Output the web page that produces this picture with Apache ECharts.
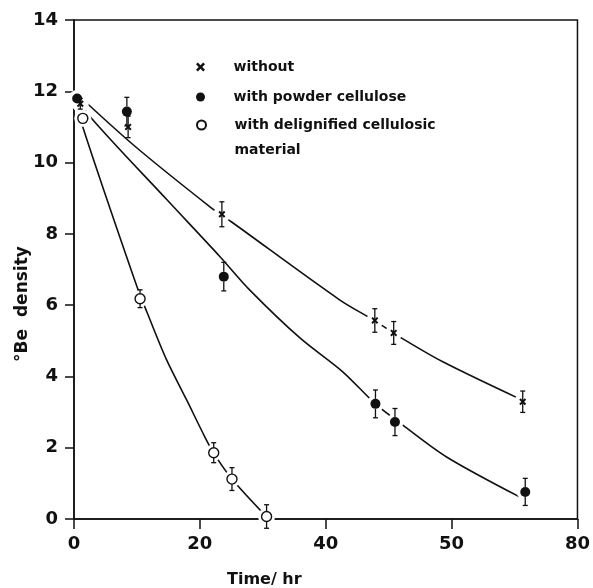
<!DOCTYPE html>
<html>
<head>
<meta charset="utf-8">
<script src="https://cdn.jsdelivr.net/npm/echarts@6/dist/echarts.min.js"></script>
<style>
  html, body { margin: 0; padding: 0; background: #fff; }
  #chart { width: 593px; height: 588px; }
</style>
</head>
<body>
<div id="chart"></div>
<script>
// measured points (time in hr, density in °Be, +/- error)
const timeWithout = [1.0, 8.6, 23.5, 47.8, 50.8, 71.3];
const densWithout = [11.65, 11.0, 8.55, 5.57, 5.22, 3.29];
const errWithout = [0.15, 0.3, 0.35, 0.33, 0.32, 0.3];

const timePowder = [0.5, 8.4, 23.8, 47.9, 51.0, 71.7];
const densPowder = [11.8, 11.43, 6.8, 3.23, 2.72, 0.76];
const errPowder = [0.12, 0.4, 0.4, 0.39, 0.38, 0.38];

const timeDelig = [1.4, 10.5, 22.2, 25.1, 30.6];
const densDelig = [11.24, 6.18, 1.86, 1.12, 0.07];
const errDelig = [0.12, 0.25, 0.28, 0.32, 0.33];

// fitted curves
const curveWithoutX = [0, 9.4, 21.6, 25, 42.2, 47.8, 52.2, 58.6, 70.8];
const curveWithoutY = [12, 10.5, 8.76, 8.34, 6.15, 5.56, 5.06, 4.41, 3.37];
const curvePowderX = [0, 2.5, 14.7, 23.2, 27.9, 35.9, 42.7, 47.9, 52.2, 59.2, 70.8];
const curvePowderY = [12, 11.3, 8.97, 7.36, 6.43, 5.08, 4.13, 3.23, 2.64, 1.74, 0.62];
const curveDeligX = [0, 1.4, 10, 11.6, 14.7, 17.9, 20.8, 22.2, 25.1, 30.6];
const curveDeligY = [12, 11.0, 6.52, 5.8, 4.47, 3.34, 2.3, 1.85, 1.12, 0.06];

const xTickLabels = ["0", "20", "40", "50", "80"];

const nameWithout = "without";
const namePowder = "with powder cellulose";
const nameDelig = "with delignified cellulosic material";

const ink = "#111";
const crossPath = "path://M0,2L2,0L5,3L8,0L10,2L7,5L10,8L8,10L5,7L2,10L0,8L3,5Z";

const zip = (a, b) => a.map((v, i) => [v, b[i]]);

function curve(xs, ys) {
  return {
    type: "line",
    data: zip(xs, ys),
    smooth: 0.3,
    showSymbol: false,
    silent: true,
    z: 2,
    lineStyle: { color: ink, width: 1.6 }
  };
}

// white disc under each marker so the curve breaks around it
function halo(xs, ys) {
  return {
    type: "scatter",
    data: zip(xs, ys),
    symbol: "circle",
    symbolSize: 17,
    silent: true,
    z: 3,
    itemStyle: { color: "#fff", opacity: 1 }
  };
}

function errorBars(xs, ys, errs, gap) {
  return {
    type: "custom",
    silent: true,
    clip: false,
    z: 6,
    data: xs.map((x, i) => [x, ys[i], errs[i]]),
    renderItem: (params, api) => {
      const x = api.value(0);
      const y = api.value(1);
      const e = api.value(2);
      const c = api.coord([x, y]);
      const top = api.coord([x, y + e])[1];
      const bot = api.coord([x, y - e])[1];
      const cap = 2.5;
      const style = { stroke: ink, lineWidth: 1.3 };
      const kids = [];
      if (top < c[1] - gap) {
        kids.push({ type: "line", shape: { x1: c[0], y1: top, x2: c[0], y2: c[1] - gap }, style });
        kids.push({ type: "line", shape: { x1: c[0] - cap, y1: top, x2: c[0] + cap, y2: top }, style });
      }
      if (bot > c[1] + gap) {
        kids.push({ type: "line", shape: { x1: c[0], y1: c[1] + gap, x2: c[0], y2: bot }, style });
        kids.push({ type: "line", shape: { x1: c[0] - cap, y1: bot, x2: c[0] + cap, y2: bot }, style });
      }
      return { type: "group", children: kids };
    }
  };
}

const chart = echarts.init(document.getElementById("chart"));

const legendText = {
  color: ink,
  fontFamily: "DejaVu Sans",
  fontWeight: "bold",
  fontSize: 14,
  lineHeight: 16
};

const option = {
  backgroundColor: "#fff",
  animation: false,
  grid: {
    left: 74,
    right: 15,
    top: 20,
    bottom: 69,
    show: true,
    borderColor: ink,
    borderWidth: 1.5,
    backgroundColor: "transparent"
  },
  legend: [
    {
      data: [nameWithout, namePowder],
      orient: "vertical",
      left: 196,
      top: 59,
      padding: 0,
      itemWidth: 56,
      itemHeight: 9,
      itemGap: 14,
      selectedMode: false,
      textStyle: legendText
    },
    {
      // blank first line keeps the icon level with the first text line
      data: [nameDelig],
      orient: "vertical",
      left: 196,
      top: 93,
      padding: 0,
      itemWidth: 56,
      itemHeight: 9,
      selectedMode: false,
      formatter: () => "{s| }\n{t|with delignified cellulosic}\n{t|material}",
      textStyle: {
        color: ink,
        fontFamily: "DejaVu Sans",
        fontWeight: "bold",
        fontSize: 14,
        rich: {
          s: { lineHeight: 25, fontSize: 14 },
          t: { lineHeight: 25, fontSize: 14, fontWeight: "bold", fontFamily: "DejaVu Sans", color: ink }
        }
      }
    }
  ],
  xAxis: {
    type: "value",
    min: 0,
    max: 80,
    interval: 20,
    splitLine: { show: false },
    axisLine: { show: true, lineStyle: { color: ink, width: 1.5 } },
    axisTick: { show: true, inside: false, length: 10, lineStyle: { color: ink, width: 1.5 } },
    axisLabel: {
      color: ink,
      fontFamily: "DejaVu Sans",
      fontWeight: "bold",
      fontSize: 18,
      margin: 16,
      formatter: v => xTickLabels[Math.round(v / 20)]
    }
  },
  yAxis: {
    type: "value",
    min: 0,
    max: 14,
    interval: 2,
    splitLine: { show: false },
    axisLine: { show: true, lineStyle: { color: ink, width: 1.5 } },
    axisTick: { show: true, inside: false, length: 9, lineStyle: { color: ink, width: 1.5 } },
    axisLabel: {
      color: ink,
      fontFamily: "DejaVu Sans",
      fontWeight: "bold",
      fontSize: 18,
      margin: 16
    }
  },
  graphic: [
    {
      type: "text",
      left: 227,
      top: 572,
      style: {
        text: "Time/ hr",
        fill: ink,
        font: "bold 16px 'DejaVu Sans'"
      }
    },
    {
      type: "text",
      x: 23,
      y: 304,
      rotation: Math.PI / 2,
      style: {
        text: "°Be  density",
        fill: ink,
        font: "bold 17px 'DejaVu Sans'",
        align: "center",
        verticalAlign: "middle"
      }
    }
  ],
  series: [
    curve(curveWithoutX, curveWithoutY),
    curve(curvePowderX, curvePowderY),
    curve(curveDeligX, curveDeligY),
    halo(timeWithout, densWithout),
    halo(timePowder, densPowder),
    halo(timeDelig, densDelig),
    {
      name: nameWithout,
      type: "scatter",
      data: zip(timeWithout, densWithout),
      symbol: crossPath,
      symbolSize: 7,
      z: 5,
      itemStyle: { color: ink, opacity: 1 }
    },
    {
      name: namePowder,
      type: "scatter",
      data: zip(timePowder, densPowder),
      symbol: "circle",
      symbolSize: 10,
      z: 5,
      itemStyle: { color: ink, opacity: 1 }
    },
    {
      name: nameDelig,
      type: "scatter",
      data: zip(timeDelig, densDelig),
      symbol: "circle",
      symbolSize: 10,
      z: 5,
      itemStyle: { color: "#fff", borderColor: ink, borderWidth: 1.4, opacity: 1 }
    },
    errorBars(timeWithout, densWithout, errWithout, 0),
    errorBars(timePowder, densPowder, errPowder, 5),
    errorBars(timeDelig, densDelig, errDelig, 5)
  ]
};

chart.setOption(option);
</script>
</body>
</html>
